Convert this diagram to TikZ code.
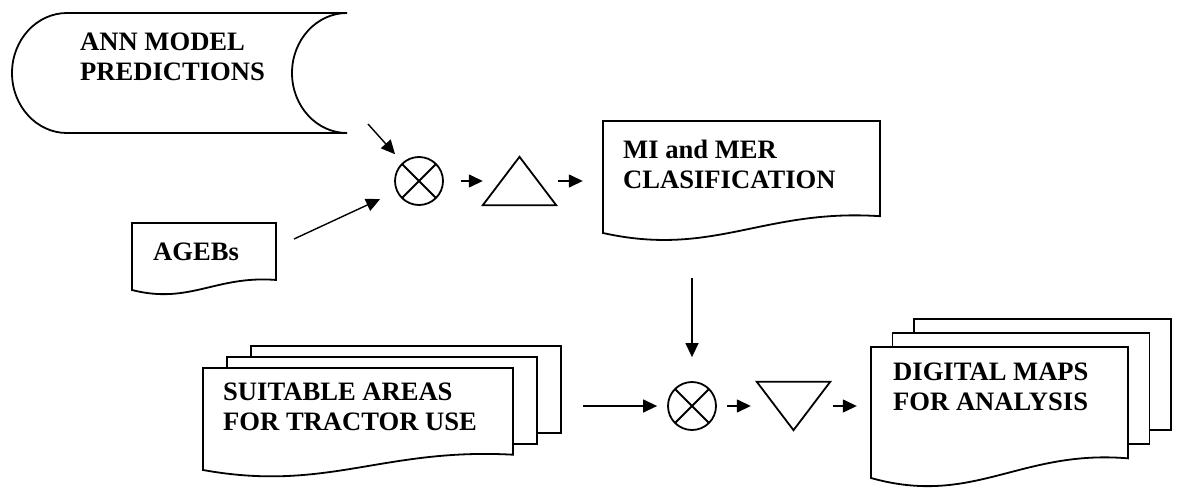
\documentclass[tikz,border=0pt]{standalone}
\usepackage{fontspec}
\setmainfont{Liberation Serif}
\usetikzlibrary{arrows.meta,fit}

% document sheet with wavy bottom: x0, y0 (top left), x1, y1 (bottom left)
\newcommand{\docsheet}[4]{%
	\pgfmathsetmacro\docw{#3-#1}\pgfmathsetmacro\doch{#4-#2}%
	\draw[outline] (#1,#2) -- (#3,#2) -- (#3,{#4-0.15*\doch})
	.. controls ({#1+0.58*\docw},{#4-0.22*\doch}) and ({#1+0.40*\docw},{#4+0.22*\doch}) .. (#1,#4) -- cycle;}

% two more sheets stacked behind, shifted by dx, dy
\newcommand{\multidoc}[6]{%
	\pgfmathsetmacro\docb{#4-0.15*(#4-#2)}%
	\draw[outline] ({#1+2*#5},{#2-#6}) -- ({#1+2*#5},{#2-2*#6}) -- ({#3+2*#5},{#2-2*#6})
	-- ({#3+2*#5},{\docb-2*#6}) -- ({#3+#5},{\docb-2*#6});
	\draw[outline] ({#1+#5},#2) -- ({#1+#5},{#2-#6}) -- ({#3+#5},{#2-#6})
	-- ({#3+#5},{\docb-#6}) -- (#3,{\docb-#6});
	\docsheet{#1}{#2}{#3}{#4}}

\begin{document}
\begin{tikzpicture}[x=1pt, y=-1pt,
	outline/.style={line width=1.8pt},
	flow/.style={line width=1.4pt, -{Triangle[length=14pt,width=13pt]}},
	junction/.style={circle, draw, line width=1.8pt, minimum size=48pt, inner sep=0pt,
		path picture={\draw[line width=1.8pt]
			(path picture bounding box.north west) -- (path picture bounding box.south east)
			(path picture bounding box.north east) -- (path picture bounding box.south west);}},
	tribox/.style={minimum width=73pt, minimum height=48pt, inner sep=0pt},
	area/.style={inner sep=0pt},
	doctext/.style={anchor=base west, align=left, inner sep=0pt,
		font=\bfseries\fontsize{26.6pt}{30pt}\selectfont}]
	\useasboundingbox (0,0) rectangle (1192,498);

	% inputs (text placed at the baseline of the last line)
	\draw[outline] (12,73) .. controls (12,39.9) and (36.6,13) .. (67,13) -- (347,13)
	.. controls (316.6,13) and (292,39.9) .. (292,73)
	.. controls (292,106.1) and (316.6,133) .. (347,133) -- (67,133)
	.. controls (36.6,133) and (12,106.1) .. cycle;
	\node[doctext] (ann-txt) at (80,80) {ANN MODEL\\PREDICTIONS};
	\docsheet{132}{223}{276}{290}
	\node[doctext] (ageb-txt) at (153,260) {AGEBs};

	% first step: classification
	\node[junction] (j1) at (419,181) {};
	\node[tribox] (t1) at (519.5,181) {};
	\draw[outline] (t1.south west) -- (t1.north) -- (t1.south east) -- cycle;
	\docsheet{603}{121}{880}{233}
	\node[area, fit={(603,121) (880,233)}] (mimer) {};
	\node[doctext] (mimer-txt) at (623,188) {MI and MER\\CLASIFICATION};

	% second step: maps
	\multidoc{203}{368}{513}{470}{24}{11}
	\node[area, fit={(203,346) (561,470)}] (suitable) {};
	\node[doctext] (suit-txt) at (223,430) {SUITABLE AREAS\\FOR TRACTOR USE};
	\node[junction] (j2) at (692,406) {};
	\node[tribox] (t2) at (793.5,406) {};
	\draw[outline] (t2.north west) -- (t2.south) -- (t2.north east) -- cycle;
	\multidoc{871}{347}{1128}{478}{21.5}{14}
	\node[area, fit={(871,319) (1171,478)}] (maps) {};
	\node[doctext] (maps-txt) at (893,410) {DIGITAL MAPS\\FOR ANALYSIS};

	% arrows
	\coordinate (ann-out) at (368,124);
	\coordinate (ageb-out) at (294,239);
	\draw[flow, shorten >=11pt] (ann-out) -- (j1);
	\draw[flow, shorten >=18pt] (ageb-out) -- (j1);
	\draw[flow, shorten <=17pt] (j1) -- (t1);
	\draw[flow, shorten <=2pt, shorten >=20pt] (t1) -- (t1 -| mimer.west);
	\draw[flow, shorten <=45pt, shorten >=24pt] (mimer.south -| j2) -- (j2);
	\draw[flow, shorten <=22pt, shorten >=10pt] (suitable.east |- j2) -- (j2);
	\draw[flow, shorten <=10pt, shorten >=6pt] (j2) -- (t2);
	\draw[flow, shorten <=3pt, shorten >=14pt] (t2) -- (t2 -| maps.west);
\end{tikzpicture}
\end{document}
